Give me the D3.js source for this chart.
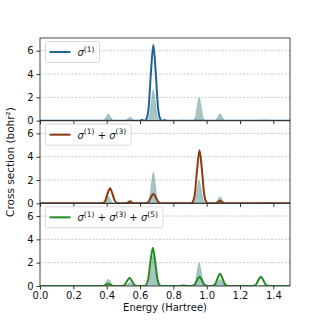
<!DOCTYPE html>
<html><head><meta charset="utf-8">
<script src="https://cdn.jsdelivr.net/npm/d3@7"></script>
<style>body{margin:0;background:#fff}svg{display:block;font-family:"DejaVu Sans",sans-serif}</style>
</head><body><div id="chart"></div>
<script>
// Reference (gray filled) spectrum, same in all panels
const refEnergy = [0,0.368,0.379,0.389,0.399,0.41,0.421,0.431,0.441,0.452,0.498,0.509,0.519,0.529,0.54,0.551,0.561,0.571,0.582,0.587,0.6,0.613,0.638,0.649,0.659,0.669,0.68,0.691,0.701,0.711,0.722,0.835,0.86,0.885,0.913,0.924,0.934,0.944,0.955,0.966,0.976,0.986,0.997,1.038,1.049,1.059,1.069,1.08,1.091,1.101,1.111,1.122,1.31,1.33,1.35,1.37,1.39,1.5];
const refSigma  = [0,0,0.02,0.125,0.38,0.57,0.38,0.125,0.02,0,0,0.01,0.064,0.19,0.29,0.19,0.064,0.01,0,0,0.06,0,0,0.09,0.58,1.75,2.65,1.75,0.58,0.09,0,0,0.06,0,0,0.07,0.43,1.3,1.97,1.3,0.43,0.07,0,0,0.02,0.125,0.38,0.57,0.38,0.125,0.02,0,0,0.05,0.06,0.05,0,0];

// sigma(1)
const s1Energy = [0,0.6,0.612,0.622,0.627,0.638,0.652,0.666,0.68,0.694,0.708,0.722,0.733,0.738,0.748,0.76,1.5];
const s1Sigma  = [0,0,0.07,0,0,0.13,1.14,4.2,6.5,4.2,1.14,0.13,0,0,0.06,0,0];

// sigma(1)+sigma(3)
const s13Energy = [0,0.367,0.378,0.392,0.406,0.42,0.434,0.448,0.462,0.473,0.515,0.53,0.54,0.55,0.565,0.627,0.638,0.652,0.666,0.68,0.694,0.708,0.722,0.733,0.904,0.915,0.929,0.943,0.957,0.971,0.985,0.999,1.01,1.055,1.068,1.08,1.092,1.105,1.5];
const s13Sigma  = [0,0,0.03,0.23,0.85,1.3,0.85,0.23,0.03,0,0,0.08,0.15,0.08,0,0,0.02,0.14,0.53,0.82,0.53,0.14,0.02,0,0,0.09,0.8,2.96,4.55,2.96,0.8,0.09,0,0,0.11,0.22,0.11,0,0];

// sigma(1)+sigma(3)+sigma(5)
const s135Energy = [0,0.38,0.396,0.41,0.424,0.44,0.484,0.495,0.509,0.523,0.537,0.551,0.565,0.579,0.59,0.624,0.635,0.649,0.663,0.677,0.691,0.705,0.719,0.73,0.835,0.86,0.885,0.904,0.915,0.929,0.943,0.957,0.971,0.985,0.999,1.01,1.027,1.038,1.052,1.066,1.08,1.094,1.108,1.122,1.133,1.272,1.283,1.297,1.311,1.325,1.339,1.353,1.367,1.378,1.5];
const s135Sigma  = [0,0,0.11,0.2,0.11,0,0,0.01,0.12,0.44,0.68,0.44,0.12,0.01,0,0,0.07,0.57,2.11,3.25,2.11,0.57,0.07,0,0,0.05,0,0,0.02,0.14,0.52,0.8,0.52,0.14,0.02,0,0,0.02,0.18,0.68,1.05,0.68,0.18,0.02,0,0,0.02,0.14,0.52,0.8,0.52,0.14,0.02,0,0];

const xTicks = [0,0.2,0.4,0.6,0.8,1.0,1.2,1.4];
const yTicks = [0,2,4,6];
const legendSups = [["1"],["1","3"],["1","3","5"]];
const seriesColors = ["#1f6391","#8b3a12","#228b22"];

const W = 322, H = 322;
const left = 40, right = 290, top0 = 38, bottom = 286;
const ph = (bottom - top0) / 3;

const svg = d3.select("#chart").append("svg").attr("width", W).attr("height", H);
const x = d3.scaleLinear().domain([0, 1.5]).range([left, right]);

const series = [
  {e: s1Energy, s: s1Sigma},
  {e: s13Energy, s: s13Sigma},
  {e: s135Energy, s: s135Sigma}
];

series.forEach((ser, i) => {
  const t = top0 + i * ph;
  const y = d3.scaleLinear().domain([0, 7.09]).range([t + ph, t]);
  const g = svg.append("g");
  const cid = "clip" + i;
  svg.append("clipPath").attr("id", cid).append("rect")
    .attr("x", left).attr("y", t - 1).attr("width", right - left).attr("height", ph + 1);

  g.selectAll(".grid").data(yTicks.filter(d => d > 0)).join("line")
    .attr("x1", left).attr("x2", right)
    .attr("y1", d => y(d)).attr("y2", d => y(d))
    .attr("stroke", "#bbbbbb").attr("stroke-width", 0.8).attr("stroke-dasharray", "2,1.5");

  const refData = refEnergy.map((e, k) => [e, refSigma[k]]);
  const area = d3.area().x(d => x(d[0])).y0(y(0)).y1(d => y(d[1])).curve(d3.curveMonotoneX);
  g.append("path").datum(refData).attr("d", area)
    .attr("fill", "#5e9696").attr("fill-opacity", 0.55)
    .attr("stroke", "#5e8e8e").attr("stroke-opacity", 0.6).attr("stroke-width", 0.6)
    .attr("clip-path", `url(#${cid})`);

  const data = ser.e.map((e, k) => [e, ser.s[k]]);
  const line = d3.line().x(d => x(d[0])).y(d => y(d[1])).curve(d3.curveMonotoneX);
  g.append("path").datum(data).attr("d", line)
    .attr("fill", "none").attr("stroke", seriesColors[i]).attr("stroke-width", 2)
    .attr("stroke-linejoin", "round").attr("clip-path", `url(#${cid})`);

  g.append("rect").attr("x", left).attr("y", t).attr("width", right - left).attr("height", ph)
    .attr("fill", "none").attr("stroke", "#333").attr("stroke-width", 0.9);

  const ya = d3.axisLeft(y).tickValues(yTicks).tickFormat(d3.format("d")).tickSize(3.5).tickPadding(3);
  const yg = svg.append("g").attr("transform", `translate(${left},0)`).call(ya);
  yg.select(".domain").remove();
  yg.selectAll("text").attr("font-size", 10).attr("fill", "#111").attr("font-family", "DejaVu Sans");
  yg.selectAll("line").attr("stroke", "#333");

  const xa = d3.axisBottom(x).tickValues(xTicks).tickFormat(i === 2 ? d3.format(".1f") : () => "").tickSize(3.5).tickPadding(2);
  const xg = svg.append("g").attr("transform", `translate(0,${t + ph})`).call(xa);
  xg.select(".domain").remove();
  xg.selectAll("text").attr("font-size", 10).attr("fill", "#111").attr("font-family", "DejaVu Sans");
  xg.selectAll("line").attr("stroke", "#333");

  const sups = legendSups[i];
  const lg = svg.append("g").attr("transform", `translate(45.5,${t + 3.5})`);
  const box = lg.append("rect").attr("x", 0).attr("y", 0).attr("height", 21)
    .attr("rx", 2).attr("fill", "#fff").attr("fill-opacity", 0.8).attr("stroke", "#d0d0d0").attr("stroke-width", 0.8);
  lg.append("line").attr("x1", 4).attr("x2", 25).attr("y1", 10.5).attr("y2", 10.5)
    .attr("stroke", seriesColors[i]).attr("stroke-width", 2);
  const txt = lg.append("text").attr("x", 32).attr("y", 14.5).attr("font-size", 10).attr("fill", "#111");
  sups.forEach((s, k) => {
    if (k > 0) txt.append("tspan").attr("dy", 4.5).text(" + ");
    txt.append("tspan").attr("font-style", "italic").text("σ");
    txt.append("tspan").attr("font-size", 7.5).attr("dy", -4.5).text(`(${s})`);
  });
  const bw = txt.node().getComputedTextLength();
  box.attr("width", 32 + bw + 5);
});

svg.append("text").attr("x", (left + right) / 2).attr("y", 311).attr("text-anchor", "middle")
  .attr("font-size", 10).attr("fill", "#111").text("Energy (Hartree)");
svg.append("text").attr("transform", `translate(14,${(top0 + bottom) / 2}) rotate(-90)`)
  .attr("text-anchor", "middle").attr("font-size", 10.5).attr("fill", "#111")
  .text("Cross section (bohr²)");
</script></body></html>
